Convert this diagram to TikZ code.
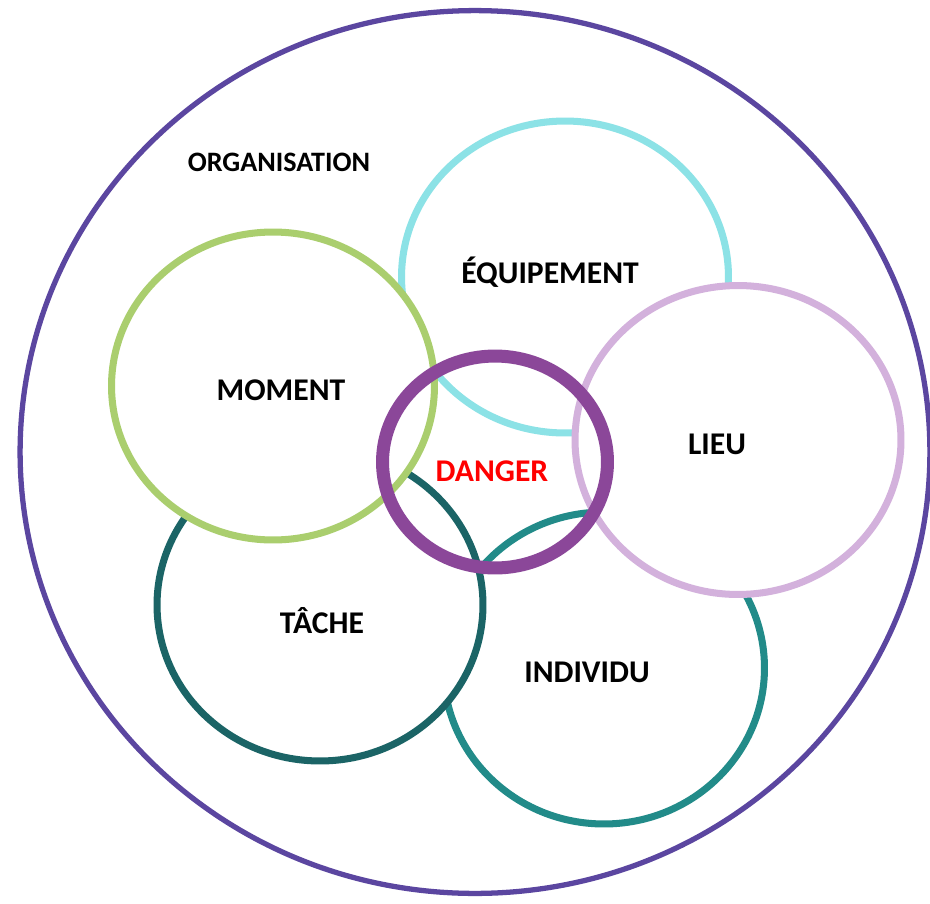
\documentclass[tikz,border=0pt]{standalone}
\usepackage{fontspec}
\setmainfont{Carlito}
\usetikzlibrary{shapes.geometric, positioning}
\definecolor{orgpurple}{RGB}{91, 70, 160}
\definecolor{equipcyan}{RGB}{140, 226, 230}
\definecolor{momentgreen}{RGB}{170, 206, 110}
\definecolor{lieulilac}{RGB}{211, 177, 220}
\definecolor{tachegreen}{RGB}{27, 100, 102}
\definecolor{indivteal}{RGB}{34, 139, 137}
\definecolor{dangerpurple}{RGB}{139, 71, 153}

\begin{document}
\begin{tikzpicture}[
    x=0.02cm, y=-0.02cm,
    zone/.style={ellipse, draw, fill=white, line width=4pt, inner sep=0pt, outer sep=0pt},
    label/.style={font=\fontsize{18}{20}\selectfont\bfseries, text=black},
    smalllabel/.style={font=\fontsize{16}{18}\selectfont\bfseries, text=black}
]
\useasboundingbox (0,0) rectangle (930,903);
% cadre
\node[ellipse, draw=orgpurple, line width=3pt, fill=white, inner sep=0pt,
      minimum width=18.2cm, minimum height=17.66cm] (organisation) at (475,452) {};
\node[smalllabel] (orglabel) at (279,162) {ORGANISATION};
% cercles
\node[zone, draw=equipcyan, minimum width=6.54cm, minimum height=6.24cm] (equipement) at (565,277) {};
\node[zone, draw=indivteal, minimum width=6.42cm, minimum height=6.24cm] (individu) at (604,668) {};
\node[zone, draw=tachegreen, minimum width=6.52cm, minimum height=6.24cm] (tache) at (320,605) {};
\node[zone, draw=momentgreen, minimum width=6.46cm, minimum height=6.16cm] (moment) at (273,386) {};
\node[zone, draw=lieulilac, minimum width=6.52cm, minimum height=6.18cm] (lieu) at (738,440) {};
\node[ellipse, draw=dangerpurple, line width=7.4pt, inner sep=0pt,
      minimum width=4.50cm, minimum height=4.24cm] (danger) at (495,462) {};
% textes
\node[label] (equiplabel) at (550,272) {ÉQUIPEMENT};
\node[label] (momentlabel) at (281,390) {MOMENT};
\node[label] (lieulabel) at (717,444) {LIEU};
\node[label] (tachelabel) at (322,621) {TÂCHE};
\node[label] (indivlabel) at (587,672) {INDIVIDU};
\node[label, text=red] (dangerlabel) at (492,471) {DANGER};
\end{tikzpicture}
\end{document}
